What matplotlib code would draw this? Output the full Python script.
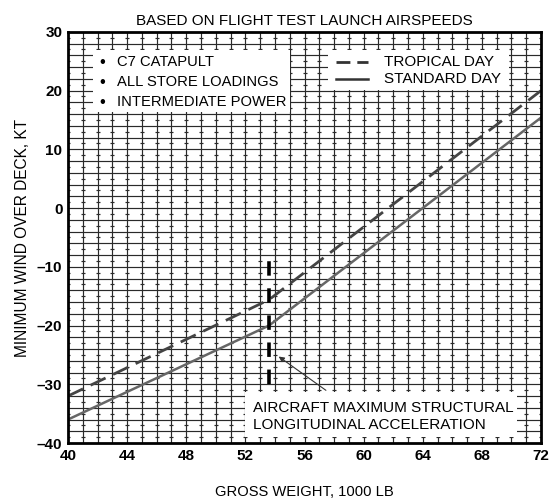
"""
Vent minimum sur le pont en fonction de la masse brute (catapulte C7)
"""

import numpy as np
import matplotlib.pyplot as plt
from matplotlib.patches import Rectangle

# donnees
poids_tropical = [40, 53.6, 72]
vent_tropical = [-32, -15.6, 20]
poids_standard = [40, 53.6, 72]
vent_standard = [-36, -20, 15.4]
poids_limite = 53.6
vent_limite = [-30, -9]

xticks = [40, 44, 48, 52, 56, 60, 64, 68, 72]
yticks = [-40, -30, -20, -10, 0, 10, 20, 30]

notes = ["C7 CATAPULT", "ALL STORE LOADINGS", "INTERMEDIATE POWER"]
legende = ["TROPICAL DAY", "STANDARD DAY"]

plt.rcParams['font.family'] = ['Liberation Sans', 'DejaVu Sans']

fig = plt.figure(figsize=(5.51, 4.98), dpi=100)
ax = fig.add_axes([0.1234, 0.1104, 0.8585, 0.8256])
ax.set_xlim(40, 72)
ax.set_ylim(-40, 30)

# quadrillage papier millimetre
gx = np.arange(41, 72)
gy = np.arange(-38, 30, 2)
ax.vlines(gx, -40, 30, colors='#2a2a2a', lw=0.85, zorder=1)
ax.hlines(gy, 40, 72, colors='#2a2a2a', lw=0.85, zorder=1)
mx, my = np.meshgrid(np.arange(40, 73), np.arange(-39, 30, 2))
ax.plot(mx.ravel(), my.ravel(), ls='none', marker='_', ms=3, mew=0.85,
        color='#2a2a2a', zorder=1)

# cadres blancs
for (x0, y0, w, h) in [(41.7, 16.4, 13.3, 10.5), (57.6, 20.1, 12.2, 6.8),
                       (52.0, -39.0, 18.4, 7.7)]:
    ax.add_patch(Rectangle((x0, y0), w, h, facecolor='white',
                           edgecolor='none', zorder=2))

# courbes
ax.plot(poids_tropical, vent_tropical, color='#444444', lw=2.0,
        dashes=(6, 3), zorder=3)
ax.plot(poids_standard, vent_standard, color='#666666', lw=1.8, zorder=3)
ax.plot([poids_limite, poids_limite], vent_limite, color='black', lw=2.6,
        dashes=(4, 3.5), zorder=3)

ax.annotate("", xy=(54.1, -25), xytext=(57.6, -31.3),
            arrowprops=dict(arrowstyle='-|>', color='#333333', lw=0.8,
                            mutation_scale=8), zorder=4)
ax.text(52.5, -34.1, "AIRCRAFT MAXIMUM STRUCTURAL", fontsize=11,
        va='center', zorder=4)
ax.text(52.5, -36.9, "LONGITUDINAL ACCELERATION", fontsize=11,
        va='center', zorder=4)

# notes
for i, t in enumerate(notes):
    y = 24.8 - 3.4 * i
    ax.text(42.3, y, "\u2022", fontsize=12, va='center', ha='center', zorder=4)
    ax.text(43.3, y, t, fontsize=10.6, va='center', zorder=4)

ax.plot([58.1, 60.3], [24.9, 24.9], color='#333333', lw=2.0, dashes=(5, 2.5),
        zorder=4)
ax.plot([58.1, 60.3], [22.0, 22.0], color='#333333', lw=1.8, zorder=4)
ax.text(61.4, 24.9, legende[0], fontsize=11, va='center', zorder=4)
ax.text(61.4, 22.0, legende[1], fontsize=11, va='center', zorder=4)

ax.set_xticks(xticks)
ax.set_yticks(yticks)
ax.set_xticklabels([str(v) for v in xticks], fontsize=11, fontweight='bold')
ax.set_yticklabels([str(v).replace('-', '\u2013') for v in yticks],
                   fontsize=11, fontweight='bold')
ax.tick_params(length=0, pad=4)
for s in ax.spines.values():
    s.set_linewidth(2.0)
    s.set_zorder(5)

ax.set_xlabel("GROSS WEIGHT, 1000 LB", fontsize=10.6, labelpad=16)
ax.set_ylabel("MINIMUM WIND OVER DECK, KT", fontsize=11.2, labelpad=5)
ax.set_title("BASED ON FLIGHT TEST LAUNCH AIRSPEEDS", fontsize=11, pad=5)

fig.savefig("out.png", dpi=100)
